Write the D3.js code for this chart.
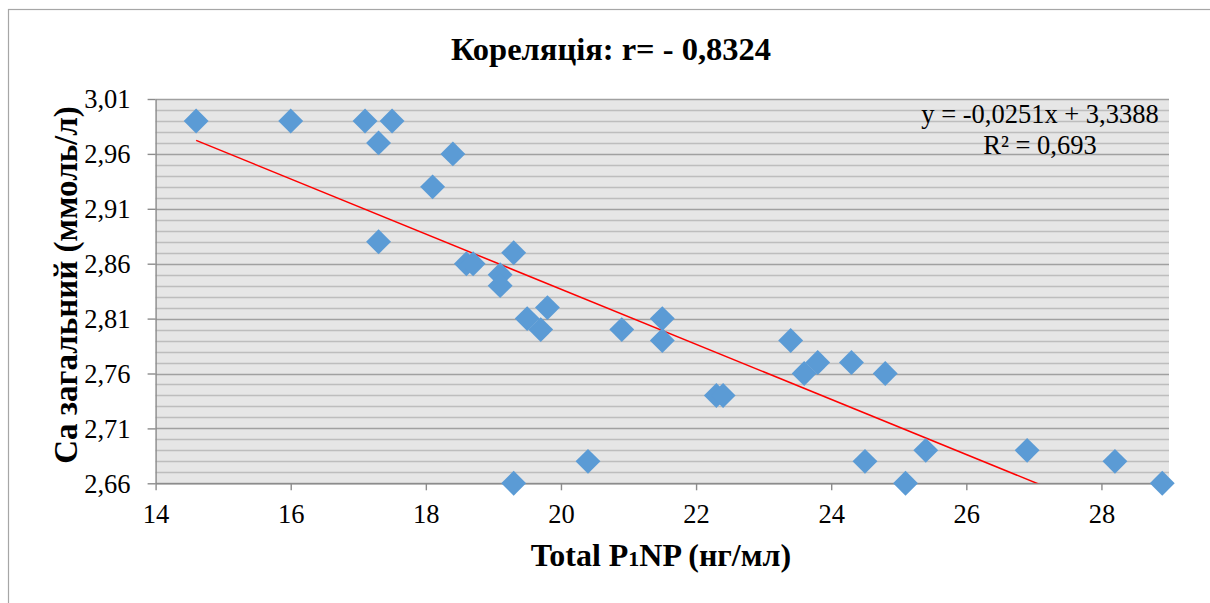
<!DOCTYPE html>
<html>
<head>
<meta charset="utf-8">
<script src="https://cdn.jsdelivr.net/npm/d3@7"></script>
<style>
    html, body { margin: 0; padding: 0; background: #fff; }
    svg { display: block; font-family: "Liberation Serif", "Times New Roman", serif; }
</style>
</head>
<body>
<div id="chart"></div>
<script>
(function () {
    "use strict";

    // Total P1NP (нг/мл) and Са загальний (ммоль/л)
    const p1np = [14.6, 16.0, 17.1, 17.5, 17.3, 18.4, 18.1, 17.3, 18.6, 18.7,
        19.3, 19.1, 19.1, 19.8, 19.5, 19.7, 19.3, 20.4, 20.9, 21.5,
        21.5, 22.3, 22.4, 23.4, 23.6, 23.8, 24.3, 24.8, 24.5, 25.1,
        25.4, 26.9, 28.2, 28.9];
    const calcium = [2.99, 2.99, 2.99, 2.99, 2.97, 2.96, 2.93, 2.88, 2.86, 2.86,
        2.87, 2.85, 2.84, 2.82, 2.81, 2.80, 2.66, 2.68, 2.80, 2.81,
        2.79, 2.74, 2.74, 2.79, 2.76, 2.77, 2.77, 2.76, 2.68, 2.66,
        2.69, 2.69, 2.68, 2.66];

    const xTicks = [14, 16, 18, 20, 22, 24, 26, 28];
    const yTicks = [2.66, 2.71, 2.76, 2.81, 2.86, 2.91, 2.96, 3.01];
    const trend = { slope: -0.0251, intercept: 3.3388 };
    const equationLines = ["y = -0,0251x + 3,3388", "R² = 0,693"];

    const width = 1210;
    const height = 603;
    const plot = { left: 155.6, right: 1169, top: 99, bottom: 483.3 };

    const comma = (v) => d3.format(".2f")(v).replace(".", ",");

    const svg = d3.select("#chart")
        .append("svg")
        .attr("width", width)
        .attr("height", height);

    // chart frame
    svg.append("rect")
        .attr("x", 8.5)
        .attr("y", 9.5)
        .attr("width", 1220)
        .attr("height", 620)
        .attr("fill", "#fff")
        .attr("stroke", "#a6a6a6")
        .attr("stroke-width", 1.2);

    const x = d3.scaleLinear().domain([14, 29]).range([plot.left, plot.right]);
    const y = d3.scaleLinear().domain([2.66, 3.01]).range([plot.bottom, plot.top]);

    svg.append("rect")
        .attr("x", plot.left)
        .attr("y", plot.top)
        .attr("width", plot.right - plot.left)
        .attr("height", plot.bottom - plot.top)
        .attr("fill", "#e6e6e6");

    // minor gridlines every 0.01
    const minor = d3.range(0, 36).map((i) => +(2.66 + i * 0.01).toFixed(2));
    svg.append("g")
        .selectAll("line")
        .data(minor.filter((v) => !yTicks.includes(v)))
        .join("line")
        .attr("x1", plot.left)
        .attr("x2", plot.right)
        .attr("y1", (d) => Math.round(y(d)) + 0.5)
        .attr("y2", (d) => Math.round(y(d)) + 0.5)
        .attr("stroke", "#bdbdbd")
        .attr("stroke-width", 1.6);

    svg.append("g")
        .selectAll("line")
        .data(yTicks)
        .join("line")
        .attr("x1", plot.left)
        .attr("x2", plot.right)
        .attr("y1", (d) => Math.round(y(d)) + 0.5)
        .attr("y2", (d) => Math.round(y(d)) + 0.5)
        .attr("stroke", "#a0a0a0")
        .attr("stroke-width", 1.6);

    // axes
    const xAxis = svg.append("g")
        .attr("transform", `translate(0,${plot.bottom})`)
        .call(d3.axisBottom(x).tickValues(xTicks).tickSize(7).tickSizeOuter(0).tickPadding(14).tickFormat(d3.format("d")));
    const yAxis = svg.append("g")
        .attr("transform", `translate(${plot.left},0)`)
        .call(d3.axisLeft(y).tickValues(yTicks).tickSize(8).tickSizeOuter(0).tickPadding(17).tickFormat(comma));

    [xAxis, yAxis].forEach((axis) => {
        axis.attr("font-family", null).attr("font-size", null);
        axis.select(".domain").attr("stroke", "#8c8c8c").attr("stroke-width", 1.4);
        axis.selectAll(".tick line").attr("stroke", "#8c8c8c").attr("stroke-width", 1.4);
        axis.selectAll("text")
            .attr("fill", "#000")
            .style("font-family", "'Liberation Serif', serif")
            .style("font-size", "26.5px");
    });
    yAxis.selectAll("text").attr("dy", "0.33em");

    // trendline, clipped to the plot area
    svg.append("clipPath")
        .attr("id", "plot-clip")
        .append("rect")
        .attr("x", plot.left)
        .attr("y", plot.top)
        .attr("width", plot.right - plot.left)
        .attr("height", plot.bottom - plot.top);

    const xStart = d3.min(p1np);
    const xEnd = d3.max(p1np);
    svg.append("line")
        .attr("clip-path", "url(#plot-clip)")
        .attr("x1", x(xStart))
        .attr("y1", y(trend.intercept + trend.slope * xStart))
        .attr("x2", x(xEnd))
        .attr("y2", y(trend.intercept + trend.slope * xEnd))
        .attr("stroke", "#ff0000")
        .attr("stroke-width", 1.5);

    // diamond markers
    const diamond = d3.symbol().type(d3.symbolSquare).size(310);
    svg.append("g")
        .selectAll("path")
        .data(p1np.map((v, i) => ({ x: v, y: calcium[i] })))
        .join("path")
        .attr("d", diamond)
        .attr("transform", (d) => `translate(${x(d.x)},${y(d.y)}) rotate(45)`)
        .attr("fill", "#5b9bd5");

    // equation label
    svg.append("g")
        .selectAll("text")
        .data(equationLines)
        .join("text")
        .attr("x", 1040)
        .attr("y", (d, i) => 123 + i * 31)
        .attr("text-anchor", "middle")
        .style("font-size", "26.5px")
        .attr("fill", "#000")
        .text((d) => d);

    // titles
    svg.append("text")
        .attr("x", 611)
        .attr("y", 60)
        .attr("text-anchor", "middle")
        .style("font-size", "32.5px")
        .style("font-weight", "bold")
        .text("Кореляція: r= - 0,8324");

    const xTitle = svg.append("text")
        .attr("x", 661)
        .attr("y", 566)
        .attr("text-anchor", "middle")
        .style("font-size", "32px")
        .style("font-weight", "bold");
    xTitle.append("tspan").text("Total P");
    xTitle.append("tspan").style("font-size", "22px").text("1");
    xTitle.append("tspan").text("NP (нг/мл)");

    svg.append("text")
        .attr("transform", "translate(77,285) rotate(-90)")
        .attr("text-anchor", "middle")
        .style("font-size", "33px")
        .style("font-weight", "bold")
        .text("Са загальний (ммоль/л)");
}());
</script>
</body>
</html>
